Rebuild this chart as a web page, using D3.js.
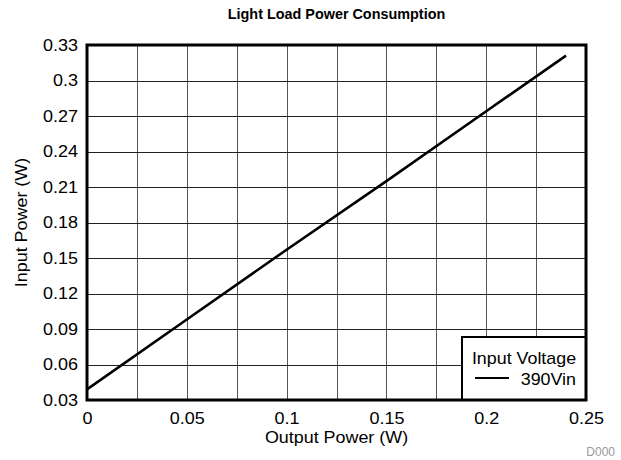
<!DOCTYPE html>
<html>
<head>
<meta charset="utf-8">
<script src="https://cdn.jsdelivr.net/npm/d3@7"></script>
<style>
  html, body { margin: 0; padding: 0; background: #fff; }
  svg text { font-family: "Liberation Sans", Arial, sans-serif; }
</style>
</head>
<body>
<div id="chart"></div>
<script>
// Measured light-load input power vs. output power at 390 Vin
const outputPower = [0, 0.05, 0.1, 0.15, 0.2, 0.24];
const inputPower  = [0.039, 0.098, 0.157, 0.215, 0.274, 0.321];
const seriesName = "390Vin";
const legendTitle = "Input Voltage";

const xTicks = [0, 0.05, 0.1, 0.15, 0.2, 0.25];
const xGrid = d3.range(0, 0.2501, 0.025);
const yTicks = [0.03, 0.06, 0.09, 0.12, 0.15, 0.18, 0.21, 0.24, 0.27, 0.3, 0.33];

const W = 621, H = 460;
const margin = { left: 87, right: 35, top: 45, bottom: 60 };
const pw = W - margin.left - margin.right;
const ph = H - margin.top - margin.bottom;

const svg = d3.select("#chart").append("svg")
  .attr("width", W).attr("height", H);

const x = d3.scaleLinear().domain([0, 0.25]).range([margin.left, margin.left + pw]);
const y = d3.scaleLinear().domain([0.03, 0.33]).range([margin.top + ph, margin.top]);

// Widen a text horizontally about its own anchor point
function widen(sel, k) {
  sel.each(function () {
    const t = d3.select(this);
    const ax = +t.attr("x") || 0;
    t.attr("transform", `translate(${ax},0) scale(${k},1) translate(${-ax},0)`);
  });
}

// Title
svg.append("text")
  .attr("x", margin.left + pw / 2).attr("y", 19)
  .attr("text-anchor", "middle")
  .attr("font-size", 14.4).attr("font-weight", "bold")
  .text("Light Load Power Consumption");

// Grid
const grid = svg.append("g").attr("stroke-width", 1);
grid.selectAll("line.v").data(xGrid).join("line")
  .attr("stroke", "#555")
  .attr("x1", d => Math.round(x(d)) + 0.5).attr("x2", d => Math.round(x(d)) + 0.5)
  .attr("y1", margin.top).attr("y2", margin.top + ph);
grid.selectAll("line.h").data(yTicks).join("line")
  .attr("stroke", "#222")
  .attr("y1", d => Math.round(y(d)) + 0.5).attr("y2", d => Math.round(y(d)) + 0.5)
  .attr("x1", margin.left).attr("x2", margin.left + pw);

// Axes (tick labels only; the frame is drawn separately)
const xAxis = svg.append("g")
  .attr("transform", `translate(0,${margin.top + ph})`)
  .call(d3.axisBottom(x).tickValues(xTicks).tickSize(0).tickPadding(12)
    .tickFormat(d => d3.format("~g")(d)));
const yAxis = svg.append("g")
  .attr("transform", `translate(${margin.left},0)`)
  .call(d3.axisLeft(y).tickValues(yTicks).tickSize(0).tickPadding(9)
    .tickFormat(d => d3.format("~g")(+d.toFixed(2))));
[xAxis, yAxis].forEach(a => {
  a.select(".domain").remove();
  a.selectAll("text").attr("font-size", 17).attr("fill", "#000")
    .style("font-family", '"Liberation Sans", Arial, sans-serif');
  widen(a.selectAll("text"), 1.06);
});

// Axis titles
svg.append("text")
  .attr("transform", `translate(${margin.left + pw / 2},443) scale(1.12,1)`)
  .attr("text-anchor", "middle").attr("font-size", 16)
  .text("Output Power (W)");
svg.append("text")
  .attr("transform", `translate(27,${margin.top + ph / 2}) rotate(-90) scale(1.12,1)`)
  .attr("text-anchor", "middle").attr("font-size", 16)
  .text("Input Power (W)");

// Data line
const line = d3.line().x((d, i) => x(outputPower[i])).y(d => y(d));
svg.append("path")
  .datum(inputPower)
  .attr("d", line)
  .attr("fill", "none").attr("stroke", "#000").attr("stroke-width", 2.6);

// Legend
const lg = svg.append("g");
const lx0 = 462, ly0 = 337, lx1 = margin.left + pw, ly1 = margin.top + ph;
lg.append("rect")
  .attr("x", lx0).attr("y", ly0).attr("width", lx1 - lx0).attr("height", ly1 - ly0)
  .attr("fill", "#fff").attr("stroke", "#000").attr("stroke-width", 2);
lg.append("text")
  .attr("x", (lx0 + lx1) / 2).attr("y", 364)
  .attr("text-anchor", "middle").attr("font-size", 17)
  .text(legendTitle);
widen(lg.selectAll("text"), 1.05);
lg.append("line")
  .attr("x1", 475).attr("x2", 509).attr("y1", 378).attr("y2", 378)
  .attr("stroke", "#000").attr("stroke-width", 2);
lg.append("text")
  .attr("x", 576).attr("y", 385)
  .attr("text-anchor", "end").attr("font-size", 17)
  .attr("transform", "translate(576,0) scale(1.05,1) translate(-576,0)")
  .text(seriesName);

// Plot frame
svg.append("rect")
  .attr("x", margin.left).attr("y", margin.top).attr("width", pw).attr("height", ph)
  .attr("fill", "none").attr("stroke", "#000").attr("stroke-width", 3);

// Figure id
svg.append("text")
  .attr("x", 615).attr("y", 456)
  .attr("text-anchor", "end").attr("font-size", 12).attr("fill", "#999")
  .text("D000");
</script>
</body>
</html>
